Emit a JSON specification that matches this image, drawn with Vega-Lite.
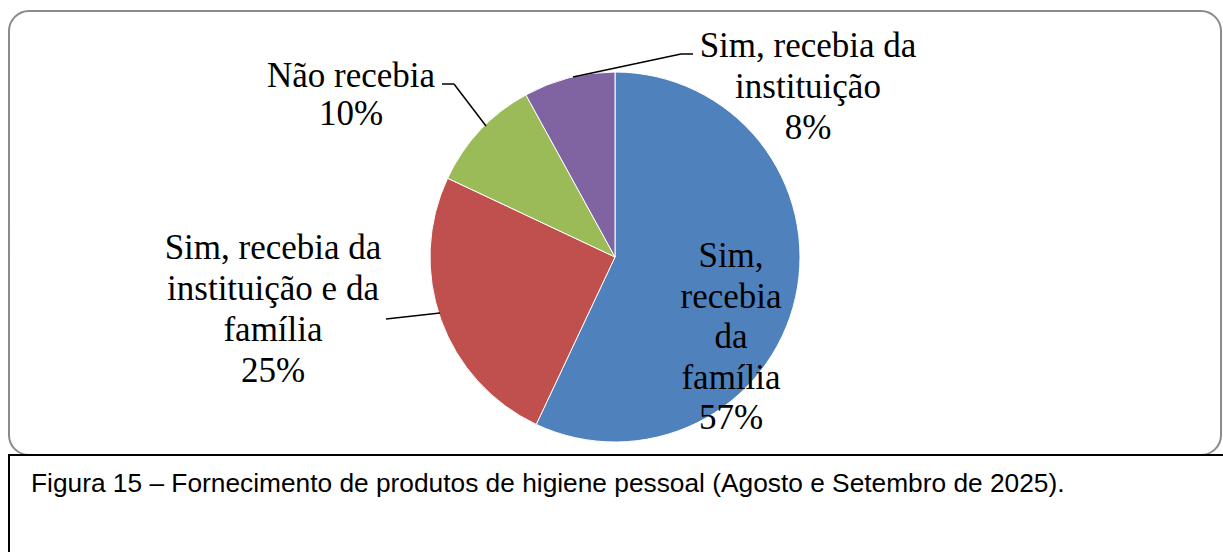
{
  "$schema": "https://vega.github.io/schema/vega-lite/v6.json",
  "background": "white",
  "padding": {"left": 8, "top": 10, "right": 0, "bottom": 0},
  "spacing": 0,
  "bounds": "flush",
  "config": {
    "text": {"lineBreak": "\n"}
  },
  "vconcat": [
    {
      "width": 1212,
      "height": 444,
      "view": {"stroke": "#8a8a8a", "strokeWidth": 2, "cornerRadius": 20},
      "data": {
        "values": [
          {"categoria": "Sim, recebia da família", "valor": 57, "ord": 1, "rotulo": "Sim,\nrecebia\nda\nfamília\n57%"},
          {"categoria": "Sim, recebia da instituição e da família", "valor": 25, "ord": 2, "rotulo": "Sim, recebia da\ninstituição e da\nfamília\n25%"},
          {"categoria": "Não recebia", "valor": 10, "ord": 3, "rotulo": "Não recebia\n10%"},
          {"categoria": "Sim, recebia da instituição", "valor": 8, "ord": 4, "rotulo": "Sim, recebia da\ninstituição\n8%"}
        ]
      },
      "layer": [
        {
          "mark": {"type": "arc", "radius": 185, "x": 606, "y": 246, "stroke": "white", "strokeWidth": 1},
          "encoding": {
            "theta": {"field": "valor", "type": "quantitative", "stack": true},
            "order": {"field": "ord", "type": "quantitative"},
            "color": {
              "field": "categoria", "type": "nominal", "legend": null,
              "scale": {
                "domain": ["Sim, recebia da família", "Sim, recebia da instituição e da família", "Não recebia", "Sim, recebia da instituição"],
                "range": ["#4F81BD", "#C0504D", "#9BBB59", "#8064A2"]
              }
            }
          }
        },
        {
          "transform": [{"filter": "datum.ord == 1"}],
          "mark": {"type": "text", "x": 722, "y": 245, "align": "center", "baseline": "middle", "font": "Liberation Serif", "fontSize": 35, "lineHeight": 40.5, "color": "black"},
          "encoding": {"text": {"field": "rotulo"}}
        },
        {
          "transform": [{"filter": "datum.ord == 2"}],
          "mark": {"type": "text", "x": 264, "y": 237, "align": "center", "baseline": "middle", "font": "Liberation Serif", "fontSize": 35, "lineHeight": 41, "color": "black"},
          "encoding": {"text": {"field": "rotulo"}}
        },
        {
          "transform": [{"filter": "datum.ord == 3"}],
          "mark": {"type": "text", "x": 342, "y": 65, "align": "center", "baseline": "middle", "font": "Liberation Serif", "fontSize": 35, "lineHeight": 38, "color": "black"},
          "encoding": {"text": {"field": "rotulo"}}
        },
        {
          "transform": [{"filter": "datum.ord == 4"}],
          "mark": {"type": "text", "x": 799, "y": 35, "align": "center", "baseline": "middle", "font": "Liberation Serif", "fontSize": 35, "lineHeight": 41, "color": "black"},
          "encoding": {"text": {"field": "rotulo"}}
        },
        {
          "data": {"values": [{}]},
          "mark": {"type": "rule", "color": "black", "strokeWidth": 1.5},
          "encoding": {"x": {"value": 433}, "y": {"value": 73}, "x2": {"value": 445}, "y2": {"value": 73}}
        },
        {
          "data": {"values": [{}]},
          "mark": {"type": "rule", "color": "black", "strokeWidth": 1.5},
          "encoding": {"x": {"value": 445}, "y": {"value": 73}, "x2": {"value": 477}, "y2": {"value": 115}}
        },
        {
          "data": {"values": [{}]},
          "mark": {"type": "rule", "color": "black", "strokeWidth": 1.5},
          "encoding": {"x": {"value": 564}, "y": {"value": 66}, "x2": {"value": 672}, "y2": {"value": 43}}
        },
        {
          "data": {"values": [{}]},
          "mark": {"type": "rule", "color": "black", "strokeWidth": 1.5},
          "encoding": {"x": {"value": 672}, "y": {"value": 43}, "x2": {"value": 684}, "y2": {"value": 43}}
        },
        {
          "data": {"values": [{}]},
          "mark": {"type": "rule", "color": "black", "strokeWidth": 1.5},
          "encoding": {"x": {"value": 377}, "y": {"value": 308}, "x2": {"value": 431}, "y2": {"value": 302}}
        }
      ]
    },
    {
      "width": 1216,
      "height": 120,
      "view": {"stroke": "black", "strokeWidth": 2},
      "data": {"values": [{"legenda": "Figura 15 – Fornecimento de produtos de higiene pessoal (Agosto e Setembro de 2025)."}]},
      "mark": {"type": "text", "x": 22, "y": 37, "align": "left", "baseline": "alphabetic", "font": "Liberation Sans", "fontSize": 26.3, "color": "black"},
      "encoding": {"text": {"field": "legenda"}}
    }
  ]
}
